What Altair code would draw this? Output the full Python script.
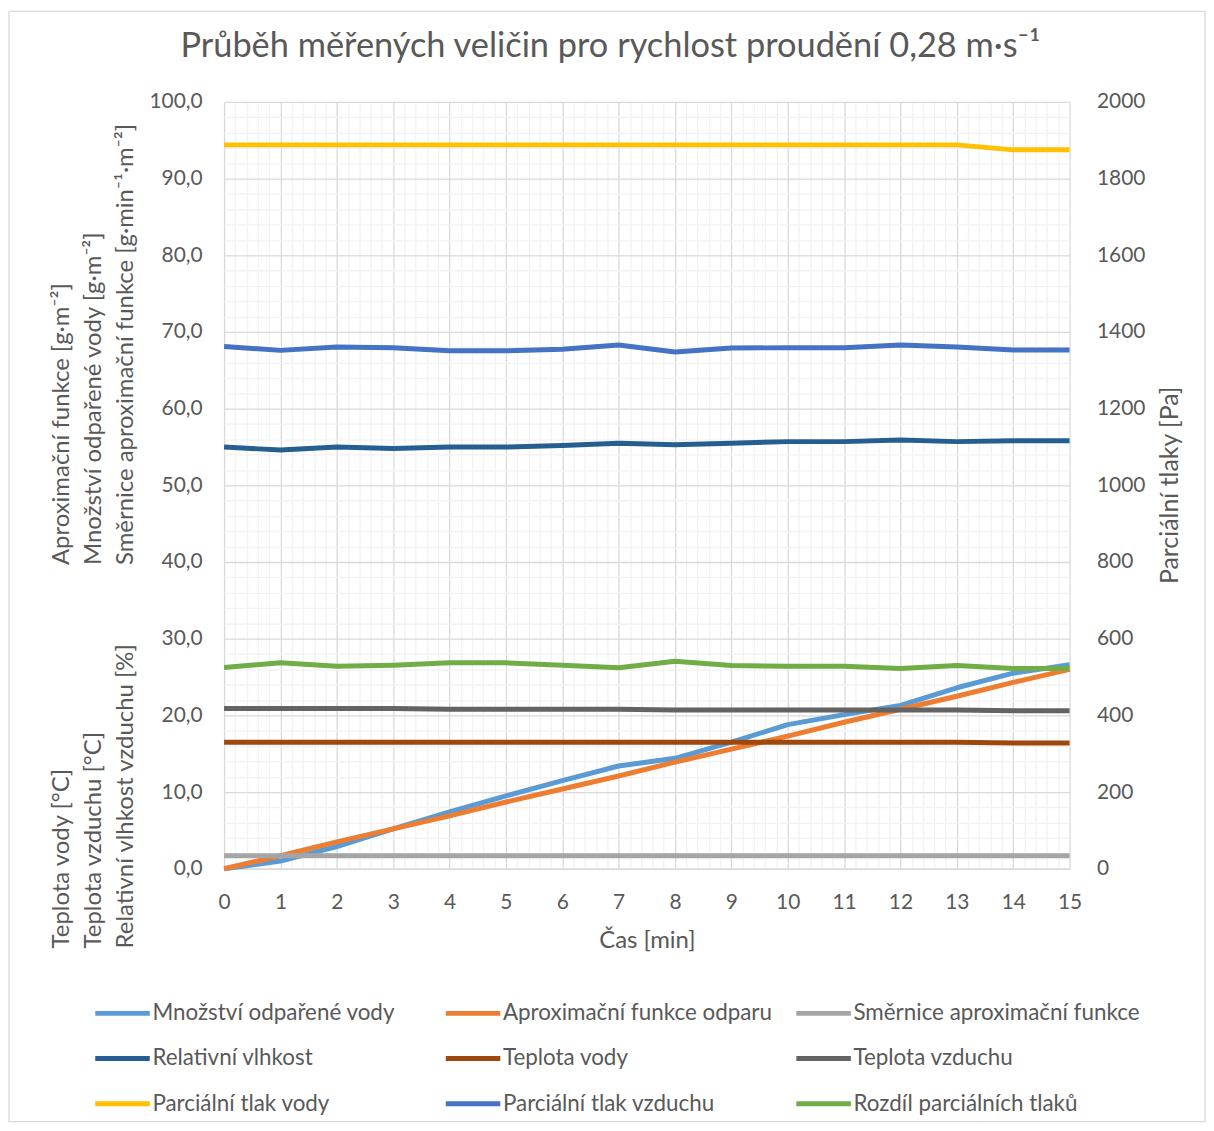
import altair as alt
import pandas as pd

# ---------------- data ----------------
cas = list(range(16))

mnozstvi = [0.0, 1.0, 2.9, 5.2, 7.4, 9.5, 11.5, 13.4, 14.4, 16.5, 18.8, 20.1, 21.3, 23.6, 25.5, 26.6]
aproximace = [0.0, 1.7, 3.5, 5.2, 6.9, 8.7, 10.4, 12.1, 13.9, 15.6, 17.3, 19.1, 20.8, 22.5, 24.3, 26.0]
smernice = [1.7] * 16
rel_vlhkost = [55.0, 54.6, 55.0, 54.8, 55.0, 55.0, 55.2, 55.5, 55.3, 55.5, 55.7, 55.7, 55.9, 55.7, 55.8, 55.8]
teplota_vody = [16.5] * 14 + [16.4, 16.4]
teplota_vzduchu = [20.9, 20.9, 20.9, 20.9, 20.8, 20.8, 20.8, 20.8, 20.7, 20.7, 20.7, 20.7, 20.7, 20.7, 20.6, 20.6]

p_vody = [1888] * 14 + [1875, 1875]
p_vzduchu = [1362, 1352, 1361, 1359, 1351, 1351, 1355, 1366, 1348, 1358, 1359, 1359, 1366, 1361, 1353, 1353]
rozdil = [525, 537, 528, 531, 537, 537, 531, 524, 541, 530, 528, 528, 522, 530, 522, 522]

names = ["Množství odpařené vody", "Aproximační funkce odparu", "Směrnice aproximační funkce",
         "Relativní vlhkost", "Teplota vody", "Teplota vzduchu",
         "Parciální tlak vody", "Parciální tlak vzduchu", "Rozdíl parciálních tlaků"]
colors = ["#5B9BD5", "#ED7D31", "#A5A5A5", "#255E91", "#9E480E", "#636363",
          "#FFC000", "#4472C4", "#70AD47"]

left_series = [mnozstvi, aproximace, smernice, rel_vlhkost, teplota_vody, teplota_vzduchu]
right_series = [p_vody, p_vzduchu, rozdil]

title_text = "Průběh měřených veličin pro rychlost proudění 0,28 m·s⁻¹"
left_title_upper = ["Aproximační funkce [g·m⁻²]", "Množství odpařené vody [g·m⁻²]",
                    "Směrnice aproximační funkce [g·min⁻¹·m⁻²]"]
left_title_lower = ["Teplota vody [°C]", "Teplota vzduchu [°C]", "Relativní vlhkost vzduchu [%]"]
right_title = "Parciální tlaky [Pa]"
x_title = "Čas [min]"

x_ticks = [round(i * 0.2, 1) for i in range(76)]
yl_ticks = list(range(0, 101, 2))
yr_ticks = list(range(0, 2001, 200))

# ---------------- tables ----------------
rows_l = []
for n, vals in zip(names[:6], left_series):
    for t, v in zip(cas, vals):
        rows_l.append({"t": t, "value": v, "series": n})
df_l = pd.DataFrame(rows_l)

rows_r = []
for n, vals in zip(names[6:], right_series):
    for t, v in zip(cas, vals):
        rows_r.append({"t": t, "value": v, "series": n})
df_r = pd.DataFrame(rows_r)

dummy = pd.DataFrame({"a": [0]})

# legend fills column by column: transpose the 3x3 grid so it reads row by row
legend_order = [names[r * 3 + c] for c in range(3) for r in range(3)]
legend_colors = [colors[names.index(n)] for n in legend_order]

FONT = "Lato"
TXT = "#595959"
W, H = 849, 770

x_enc = alt.X(
    "t:Q",
    scale=alt.Scale(domain=[0, 15], nice=False, zero=False),
    axis=alt.Axis(
        values=x_ticks,
        labelExpr="datum.value % 1 === 0 ? datum.value : ''",
        gridColor={"condition": {"test": "datum.value % 1 === 0", "value": "#D9D9D9"}, "value": "#F2F2F2"},
        gridWidth=1.3,
        ticks=False,
        domainColor="#D9D9D9",
        domainWidth=1.3,
        labelPadding=23,
        labelFontSize=21,
        title=x_title,
        titleFontSize=24,
        titlePadding=16,
        labelFlush=False,
        labelOverlap=False,
    ),
)

color_enc = alt.Color(
    "series:N",
    scale=alt.Scale(domain=legend_order, range=legend_colors),
    legend=alt.Legend(
        title=None,
        orient="none",
        legendX=-132,
        legendY=885,
        columns=3,
        symbolType="stroke",
        symbolSize=3000,
        symbolStrokeWidth=5,
        labelFontSize=22.5,
        labelColor=TXT,
        labelFont=FONT,
        labelOffset=0,
        labelLimit=400,
        gridAlign="all",
        columnPadding=-4,
        rowPadding=3.5,
    ),
)

left = alt.Chart(df_l).mark_line(strokeWidth=5, strokeJoin="round").encode(
    x=x_enc,
    y=alt.Y(
        "value:Q",
        scale=alt.Scale(domain=[0, 100], nice=False),
        axis=alt.Axis(
            orient="left",
            values=yl_ticks,
            labelExpr="datum.value % 10 === 0 ? replace(format(datum.value, '.1f'), '.', ',') : ''",
            gridColor={"condition": {"test": "datum.value % 10 === 0", "value": "#D9D9D9"}, "value": "#F2F2F2"},
            gridWidth=1.3,
            ticks=False,
            domain=False,
            labelPadding=22,
            labelFontSize=21,
            title=None,
            labelOverlap=False,
        ),
    ),
    color=color_enc,
    order=alt.Order("t:Q"),
)

right = alt.Chart(df_r).mark_line(strokeWidth=5, strokeJoin="round").encode(
    x=x_enc,
    y=alt.Y(
        "value:Q",
        scale=alt.Scale(domain=[0, 2000], nice=False),
        axis=alt.Axis(
            orient="right",
            values=yr_ticks,
            format="d",
            grid=False,
            ticks=False,
            domain=False,
            labelPadding=27,
            labelFontSize=21,
            title=None,
            labelOverlap=False,
        ),
    ),
    color=color_enc,
    order=alt.Order("t:Q"),
)

border = alt.Chart(dummy).mark_rect(filled=False, stroke="#D9D9D9", strokeWidth=1.3).encode(
    x=alt.value(-216), x2=alt.value(W + 136), y=alt.value(-91), y2=alt.value(H + 254)
)

title = alt.Chart(dummy).mark_text(
    text=title_text, font=FONT, fontSize=34.5, color=TXT, align="center", baseline="middle"
).encode(x=alt.value(388), y=alt.value(-55))

lt_upper = alt.Chart(dummy).mark_text(
    text=left_title_upper, font=FONT, fontSize=24, color=TXT, align="left",
    baseline="middle", angle=270, lineHeight=32.5
).encode(x=alt.value(-163), y=alt.value(465))

lt_lower = alt.Chart(dummy).mark_text(
    text=left_title_lower, font=FONT, fontSize=24, color=TXT, align="left",
    baseline="middle", angle=270, lineHeight=32.5
).encode(x=alt.value(-163), y=alt.value(850))

rt = alt.Chart(dummy).mark_text(
    text=right_title, font=FONT, fontSize=25, color=TXT, align="center",
    baseline="middle", angle=270
).encode(x=alt.value(W + 101), y=alt.value(385))

chart = alt.layer(border, left, right, title, lt_upper, lt_lower, rt).resolve_scale(
    y="independent"
).properties(
    width=W, height=H,
    autosize=alt.AutoSizeParams(type="none"),
    padding={"left": 217, "top": 92, "right": 137, "bottom": 254},
    background="white",
).configure_view(stroke=None).configure_axis(
    labelFont=FONT, titleFont=FONT, labelColor=TXT, titleColor=TXT, titleFontWeight="normal"
)

chart.save("out.html", embed_options={"renderer": "svg", "actions": False})
